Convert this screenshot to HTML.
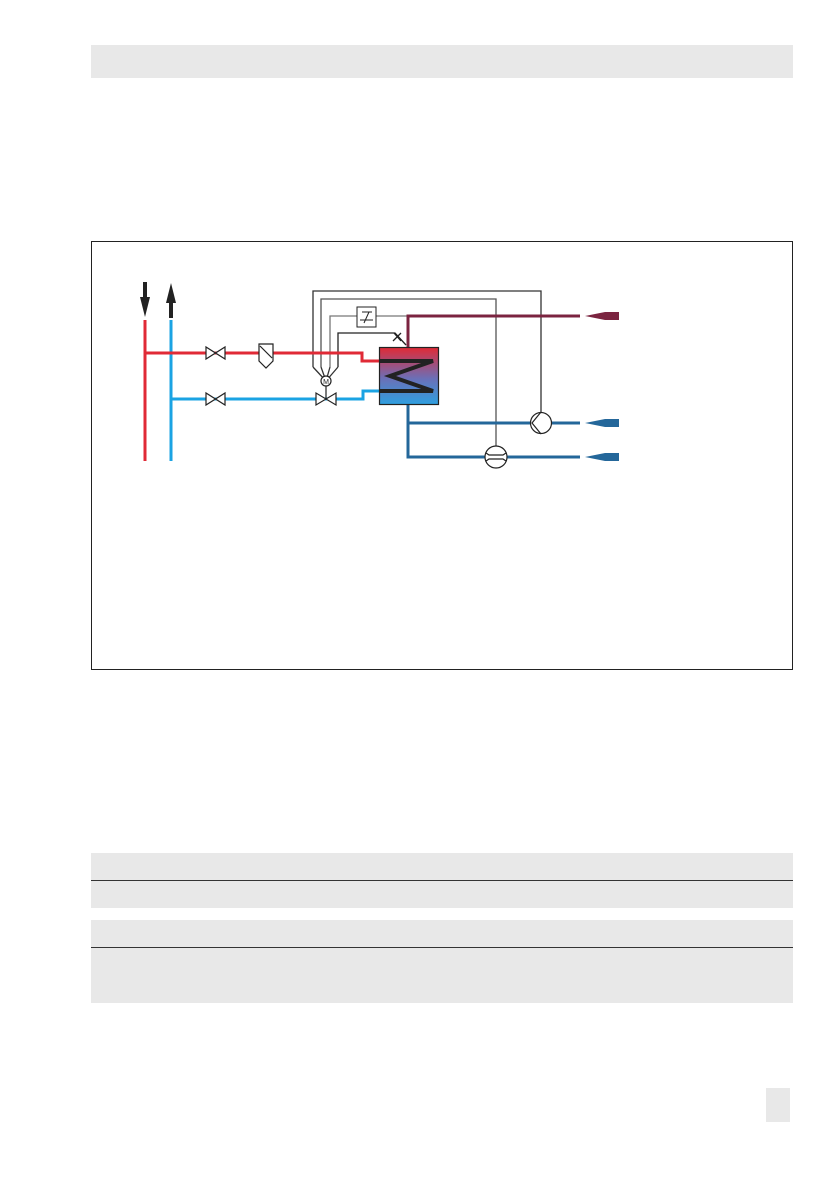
<!DOCTYPE html>
<html style="overflow:hidden"><head><style>
html,body{margin:0;padding:0;overflow:hidden}
body{background:#fff;width:840px;height:1192px;position:relative;font-family:"Liberation Sans",sans-serif}
.g{position:absolute;background:#e8e8e8}
</style></head><body>
<div class="g" style="left:91px;top:45px;width:702px;height:33px"></div>
<div class="g" style="left:91px;top:853px;width:702px;height:27px;border-bottom:1px solid #333"></div>
<div class="g" style="left:91px;top:881px;width:702px;height:27px"></div>
<div class="g" style="left:91px;top:920px;width:702px;height:27px;border-bottom:1px solid #333"></div>
<div class="g" style="left:91px;top:948px;width:702px;height:55px"></div>
<div class="g" style="left:766px;top:1088px;width:24px;height:34px"></div>
<svg width="840" height="1192" style="position:absolute;left:0;top:0;display:block">
<defs><linearGradient id="t" x1="0" y1="0" x2="0" y2="1">
<stop offset="0" stop-color="#e02a36"/><stop offset="0.55" stop-color="#6a70b8"/><stop offset="1" stop-color="#2ea0e0"/></linearGradient></defs>
<rect x="91.5" y="241.5" width="701" height="428" fill="none" stroke="#222" stroke-width="1"/>
<g fill="none" stroke-width="1.3">
<polyline points="313,367 313,291 541,291 541,412" stroke="#333"/>
<polyline points="321,367 321,299 496,299 496,446" stroke="#555"/>
<polyline points="330,367 330,316 408,316" stroke="#777"/>
<polyline points="338,367 338,333 395,333 406,345" stroke="#222"/>
<path d="M393,341 L401,333 M394,333 L401,341" stroke="#222"/>
<path d="M313,367 L326,381 M321,367 L326,381 M330,367 L326,381 M338,367 L326,381" stroke="#333"/>
</g>
<rect x="357" y="307" width="19" height="20" fill="#fff" stroke="#222"/>
<path d="M362,312 H372 M369,312 L364,323 M360,320 L373,320" stroke="#222" fill="none" stroke-width="1"/>
<g fill="none" stroke-width="3">
<line x1="145" y1="320" x2="145" y2="461" stroke="#e02a36"/>
<line x1="171" y1="320" x2="171" y2="461" stroke="#1aa3e3"/>
<polyline points="145,353 362,353 362,361 380,361" stroke="#e02a36"/>
<polyline points="171,399 363,399 363,391 380,391" stroke="#1aa3e3"/>
<polyline points="408,347 408,316 580,316" stroke="#7b2440"/>
<polyline points="408,405 408,457 580,457" stroke="#24679a"/>
<polyline points="408,423 580,423" stroke="#24679a"/>
</g>
<path d="M143,282 h4 v15 h3 l-5,20 l-5,-20 h3z" fill="#222"/>
<path d="M169,318 h4 v-15 h3 l-5,-20 l-5,20 h3z" fill="#222"/>
<path d="M585,316 l20,-4 h14 v8 h-14z" fill="#7b2440"/>
<path d="M585,423 l20,-4 h14 v8 h-14z" fill="#24679a"/>
<path d="M585,457 l20,-4 h14 v8 h-14z" fill="#24679a"/>
<g fill="#fff" stroke="#222" stroke-width="1.2">
<path d="M206,347 v12 l19,-12 v12z"/>
<path d="M206,393 v12 l19,-12 v12z"/>
<path d="M316,393 v12 l20,-12 v12z"/>
<line x1="326" y1="399" x2="326" y2="386"/>
<circle cx="326" cy="381" r="5"/>
<path d="M259,344 h14 v17 l-7,7 l-7,-7z"/>
<line x1="260" y1="346" x2="272" y2="358"/>
</g>
<text x="326" y="384" font-size="7" text-anchor="middle" fill="#222">M</text>
<rect x="379.5" y="347.5" width="59" height="57" fill="url(#t)" stroke="#222" stroke-width="1.2"/>
<polyline points="380,361 433,361 390,376 433,391 380,391" fill="none" stroke="#222" stroke-width="4"/>
<g fill="#fff" stroke="#222" stroke-width="1.2">
<circle cx="541" cy="423" r="10.5"/>
<path d="M541,412 L532,423 L541,434" fill="none"/>
<circle cx="496" cy="457" r="11"/>
<path d="M486,453 L489,455 H503 L506,453 M486,461 L489,459 H503 L506,461" fill="none"/>
</g>
</svg>
</body></html>
